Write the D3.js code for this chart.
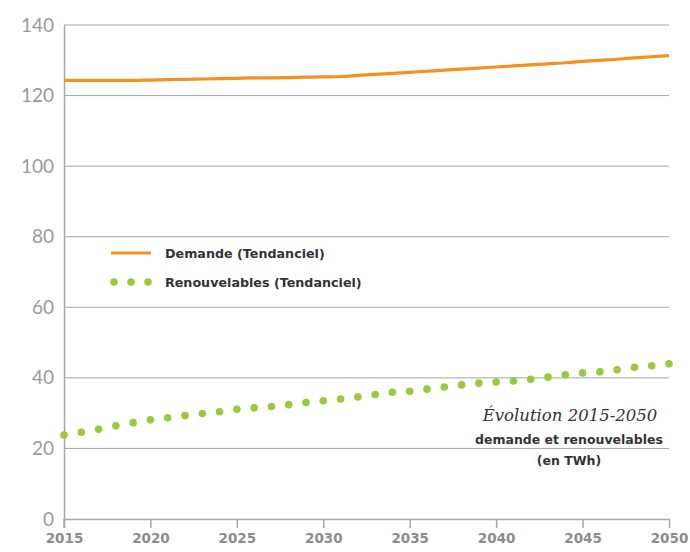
<!DOCTYPE html>
<html><head><meta charset="utf-8">
<script src="https://cdn.jsdelivr.net/npm/d3@7"></script>
<style>body{margin:0;background:#fff}svg{display:block}</style>
</head><body>
<svg id="c" width="690" height="552"></svg>
<script>
const years = d3.range(2015, 2051);
const demande = [124.3,124.3,124.3,124.3,124.3,124.4,124.5,124.6,124.7,124.8,124.9,125.0,125.0,125.1,125.2,125.3,125.4,125.7,126.0,126.3,126.6,126.9,127.2,127.5,127.8,128.1,128.4,128.7,129.0,129.3,129.7,130.0,130.3,130.7,131.0,131.3,131.7].slice(0,36);
const renouvelables = [23.8,24.6,25.4,26.4,27.3,28.1,28.7,29.3,29.9,30.4,31.1,31.5,31.9,32.4,33.0,33.5,34.0,34.6,35.3,35.9,36.2,36.8,37.4,38.0,38.5,38.8,39.1,39.6,40.2,40.9,41.4,41.7,42.3,43.0,43.4,44.0];
const xTicks = [2015,2020,2025,2030,2035,2040,2045,2050];
const yTicks = [0,20,40,60,80,100,120,140];
const legendLabels = ["Demande (Tendanciel)", "Renouvelables (Tendanciel)"];
const titleText = "Évolution 2015-2050";
const subtitleLines = ["demande et renouvelables", "(en TWh)"];

const svg = d3.select("#c");
const m = {l:64, r:21, t:25, b:33};
const W = 690, H = 552;
const x = d3.scaleLinear().domain([2015,2050]).range([m.l, W-m.r]);
const y = d3.scaleLinear().domain([0,140]).range([H-m.b, m.t]);
const grey = "#a6a6a6";
const sans = "'DejaVu Sans', sans-serif";

// gridlines
svg.append("g").selectAll("line").data(yTicks.filter(d=>d>0)).join("line")
  .attr("x1", x(2015)).attr("x2", x(2050))
  .attr("y1", d=>y(d)).attr("y2", d=>y(d))
  .attr("stroke", grey).attr("stroke-width", 1);

// y axis
const ya = svg.append("g").attr("transform",`translate(${m.l},0)`)
  .call(d3.axisLeft(y).tickValues(yTicks).tickSize(0).tickPadding(10));
ya.select(".domain").attr("stroke", grey).attr("stroke-width", 1.5);
ya.selectAll("text").attr("fill","#9a9a9a").style("font-family","Lato, sans-serif").style("font-size","19px");

// x axis
const xa = svg.append("g").attr("transform",`translate(0,${y(0)})`)
  .call(d3.axisBottom(x).tickValues(xTicks).tickFormat(d3.format("d")).tickSize(9).tickSizeOuter(0).tickPadding(5));
xa.select(".domain").attr("stroke", grey).attr("stroke-width", 1.5);
xa.selectAll(".tick line").attr("stroke", grey).attr("stroke-width", 1.5);
xa.selectAll("text").attr("fill","#8c8c8c").style("font-family",sans).style("font-size","13.5px").style("font-weight","bold");
svg.append("line").attr("x1",m.l).attr("x2",m.l).attr("y1",y(0)).attr("y2",y(0)+9).attr("stroke",grey).attr("stroke-width",1.5);

const orange = "#f7901e", green = "#9cc93b";

// demande line
svg.append("path").datum(years.map((yr,i)=>[yr,demande[i]]))
  .attr("fill","none").attr("stroke",orange).attr("stroke-width",3.2)
  .attr("d", d3.line().x(d=>x(d[0])).y(d=>y(d[1])).curve(d3.curveMonotoneX));

// renouvelables dots
svg.append("g").selectAll("circle").data(years.map((yr,i)=>[yr,renouvelables[i]])).join("circle")
  .attr("cx", d=>x(d[0])).attr("cy", d=>y(d[1])).attr("r", 3.8).attr("fill", green);

// legend
const lg = svg.append("g").style("font-family",sans).style("font-size","12.7px").style("font-weight","bold").attr("fill","#333");
lg.append("line").attr("x1",111).attr("x2",151).attr("y1",253).attr("y2",253).attr("stroke",orange).attr("stroke-width",3);
lg.append("text").attr("x",165).attr("y",258).text(legendLabels[0]);
lg.selectAll("circle").data([114,131,148]).join("circle").attr("cx",d=>d).attr("cy",282).attr("r",3.8).attr("fill",green);
lg.append("text").attr("x",165).attr("y",287).text(legendLabels[1]);

// title
svg.append("text").attr("x",570).attr("y",421).attr("text-anchor","middle")
  .style("font-family","'DejaVu Serif', serif").style("font-style","italic").style("font-size","16.5px").attr("fill","#333")
  .text(titleText);
svg.append("g").selectAll("text").data(subtitleLines).join("text")
  .attr("x",569).attr("y",(d,i)=>444+i*21).attr("text-anchor","middle")
  .style("font-family",sans).style("font-size","12.5px").style("font-weight","bold").attr("fill","#333")
  .text(d=>d);
</script>
</body></html>
